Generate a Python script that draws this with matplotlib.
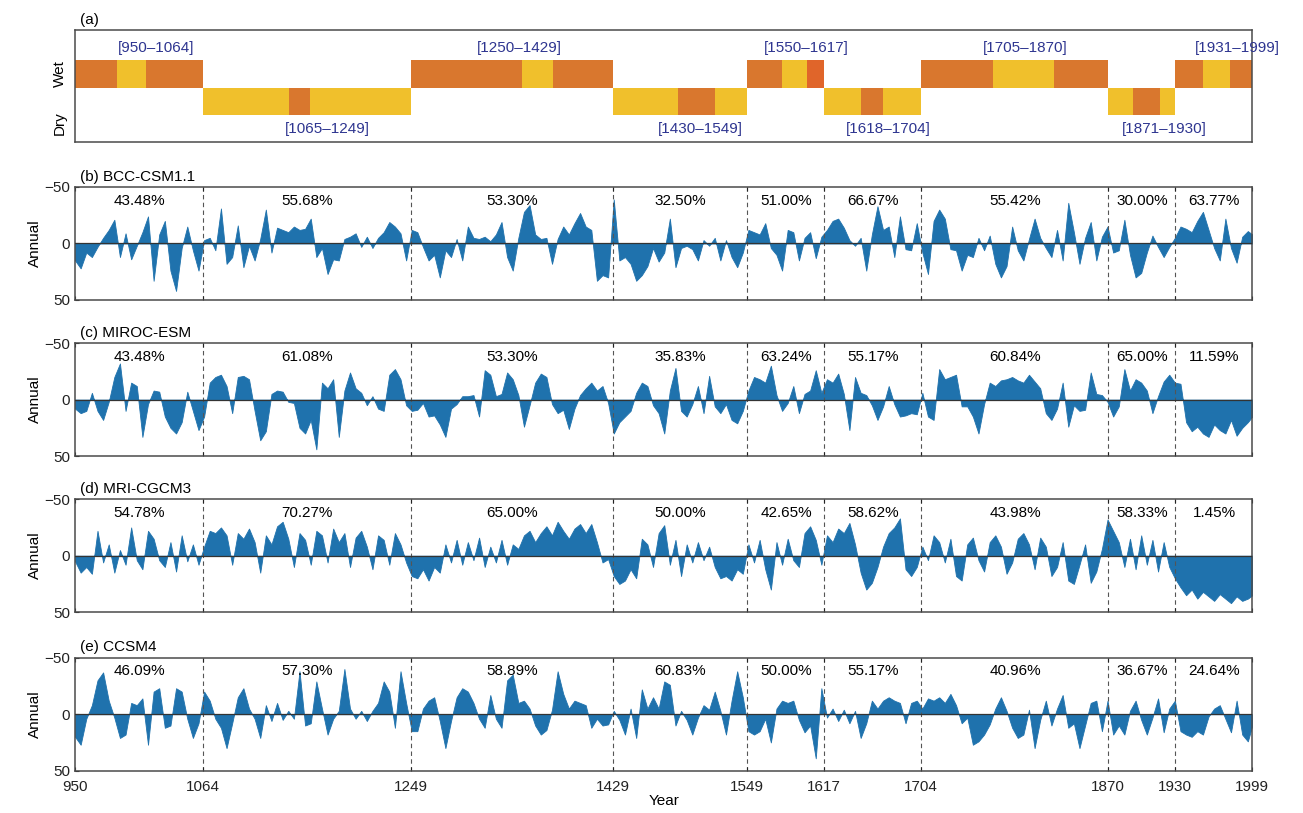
import numpy as np
import matplotlib
matplotlib.use("Agg")
import matplotlib.pyplot as plt

plt.rcParams['font.family'] = ['Liberation Sans', 'DejaVu Sans']

# period boundaries and wet/dry classification
periods = [(950, 1064), (1065, 1249), (1250, 1429), (1430, 1549), (1550, 1617),
           (1618, 1704), (1705, 1870), (1871, 1930), (1931, 1999)]
period_state = ['Wet', 'Dry', 'Wet', 'Dry', 'Wet', 'Dry', 'Wet', 'Dry', 'Wet']
boundaries = [1064, 1249, 1429, 1549, 1617, 1704, 1870, 1930]
xticks = [950, 1064, 1249, 1429, 1549, 1617, 1704, 1870, 1930, 1999]
label_x = [1022, 1175, 1346, 1507, 1602, 1675, 1797, 1921, 1986]

# colour blocks inside each period bar: (start, end, colour key)
blocks = [
    [(950, 987, 'o'), (987, 1013, 'y'), (1013, 1064, 'o')],
    [(1064, 1141, 'y'), (1141, 1159, 'o'), (1159, 1249, 'y')],
    [(1249, 1348, 'o'), (1348, 1376, 'y'), (1376, 1429, 'o')],
    [(1429, 1487, 'y'), (1487, 1520, 'o'), (1520, 1549, 'y')],
    [(1549, 1580, 'o'), (1580, 1602, 'y'), (1602, 1617, 'r')],
    [(1617, 1650, 'y'), (1650, 1670, 'o'), (1670, 1704, 'y')],
    [(1704, 1768, 'o'), (1768, 1822, 'y'), (1822, 1870, 'o')],
    [(1870, 1893, 'y'), (1893, 1917, 'o'), (1917, 1930, 'y')],
    [(1930, 1955, 'o'), (1955, 1979, 'y'), (1979, 1999, 'o')],
]
block_colors = {'o': '#d9772e', 'y': '#f0c02c', 'r': '#e0652a'}

models = ['(b) BCC-CSM1.1', '(c) MIROC-ESM', '(d) MRI-CGCM3', '(e) CCSM4']
percents = [
    ['43.48%', '55.68%', '53.30%', '32.50%', '51.00%', '66.67%', '55.42%', '30.00%', '63.77%'],
    ['43.48%', '61.08%', '53.30%', '35.83%', '63.24%', '55.17%', '60.84%', '65.00%', '11.59%'],
    ['54.78%', '70.27%', '65.00%', '50.00%', '42.65%', '58.62%', '43.98%', '58.33%', '1.45%'],
    ['46.09%', '57.30%', '58.89%', '60.83%', '50.00%', '55.17%', '40.96%', '36.67%', '24.64%'],
]

# sample years: every 5 years from 950, plus 1999
years = np.append(np.arange(950, 1999, 5), 1999)

bcc = [
    15, 22, 8, 12, 3, -5, -12, -21, 12, -9,
    14, 2, -10, -24, 33, -8, -20, 24, 42, 4,
    -15, 6, 24, -3, -5, 6, -31, 18, 12, -16,
    21, 2, 15, -4, -30, 8, -14, -12, -10, -15,
    -12, -13, -22, 12, 4, 27, 14, 15, -4, -6,
    -9, 3, -6, 4, -5, -10, -19, -15, -9, 15,
    -12, -10, 3, 15, 10, 30, 6, 12, -4, 15,
    -15, -5, -4, -6, -2, -8, -19, 12, 24, -5,
    -28, -34, -8, -4, -5, 18, -4, -15, -8, -18,
    -27, -15, -12, 33, 28, 30, -39, 15, 12, 18,
    33, 28, 20, 4, 16, 8, -22, 21, 4, 2,
    5, 15, -3, 2, -5, 15, -3, 12, 21, 8,
    -12, -10, -8, -18, 4, 10, 24, -12, -10, 15,
    -5, -10, 13, -6, -12, -20, -22, -14, -3, 2,
    -5, 24, -8, -33, -12, -15, 12, -24, 5, 6,
    -18, 8, 27, -20, -30, -22, 5, 6, 24, 10,
    12, -5, 6, -7, 18, 30, 20, -15, 6, 15,
    -4, -22, -5, 4, 12, -12, 15, -36, -10, 18,
    -5, -19, 15, -6, -15, 8, 6, -21, 10, 30,
    26, 8, -7, 3, 12, 3, -5, -15, -13, -10,
    -20, -28, -12, 4, 15, -22, 4, 17, -6, -11, -8,
]

miroc = [
    8, 12, 10, -6, 10, 18, 2, -20, -32, 10,
    -15, -12, 33, 4, -8, -7, 15, 25, 30, 20,
    -7, 10, 27, 15, -15, -20, -22, -12, 12, -20,
    -21, -18, 10, 36, 28, -5, -8, -7, 2, 3,
    25, 30, 18, 44, -15, -10, -18, 33, -8, -24,
    -10, -6, 5, -3, 8, 10, -22, -27, -18, 5,
    10, 9, 3, 15, 14, 22, 33, 8, 4, -3,
    -3, -4, 15, -26, -22, -3, -5, -24, -18, -4,
    24, 5, -15, -23, -20, 4, 12, 9, 26, 8,
    -4, -10, -15, -8, -12, 3, 30, 20, 15, 10,
    -6, -15, -12, 5, 12, 30, -8, -28, 10, 15,
    4, -12, 12, -21, 6, 12, 4, 18, 21, 10,
    -8, -20, -18, -15, -30, -4, 10, 3, -12, 12,
    -5, -8, -26, -6, -18, -15, -23, -5, 27, -20,
    -6, -4, 5, 18, 6, -12, 4, 15, 14, 12,
    13, -6, 15, 18, -27, -18, -20, -22, 6, 6,
    15, 30, 4, -15, -12, -17, -18, -20, -17, -15,
    -22, -16, -10, 12, 18, 8, -15, 24, 5, 10,
    9, -24, -5, -4, 2, 15, 6, -27, -8, -18,
    -15, -8, 12, -3, -16, -22, -15, -14, 20, 28,
    24, 30, 33, 22, 27, 30, 18, 32, 25, 20, 15,
]

mri = [
    5, 15, 10, 16, -22, 6, -10, 15, -5, 8,
    -25, 4, 12, -22, -15, 4, 10, -12, 14, -18,
    5, -10, 8, -8, -22, -20, -25, -18, 8, -20,
    -15, -24, -12, 15, -18, -10, -26, -30, -15, 10,
    -20, -14, 8, -22, -18, 6, -24, -12, -20, 10,
    -16, -22, -8, 12, -18, -14, 8, -20, -10, 6,
    18, 20, 12, 22, 10, 15, -10, 6, -14, 8,
    -12, 4, -16, 10, -8, 6, -14, 8, -10, -6,
    -18, -22, -12, -20, -26, -18, -30, -22, -15, -24,
    -28, -20, -28, -12, 6, 3, 18, 25, 22, 12,
    20, -15, -10, 10, -20, -27, 8, -14, 18, -10,
    6, -12, 4, -8, 10, 20, 18, 22, 12, 16,
    -10, 6, -14, 12, 30, -12, 8, -15, 4, 10,
    -20, -26, -14, 8, -18, -12, -24, -20, -29, -10,
    15, 30, 24, 10, -8, -20, -25, -33, 12, 18,
    10, -8, 4, -18, -12, 6, -15, 18, 22, -10,
    -16, 4, 14, -12, -18, -8, 16, 6, -15, -20,
    -10, 12, -16, -8, 18, 10, -12, 22, 25, 8,
    -10, 24, 14, -6, -32, -22, -12, 10, -15, 12,
    -18, 8, -14, 14, -12, 10, 20, 28, 35, 30,
    38, 32, 36, 40, 34, 38, 42, 36, 40, 38, 35,
]

ccsm = [
    20, 27, 4, -8, -30, -37, -12, 3, 21, 18,
    -10, -8, -14, 27, -20, -23, 12, 10, -23, -20,
    4, 21, 8, -20, -12, 4, 12, 30, 8, -15,
    -23, -5, 4, 21, -8, 6, -10, 5, -3, 4,
    -38, 10, 8, -29, -5, 18, 4, -3, -40, -5,
    4, -3, 6, -3, -10, -29, -20, 12, -38, -10,
    15, 15, -5, -12, -15, 6, 30, 6, -15, -23,
    -20, -10, 4, 12, -17, 4, 12, -30, -35, -10,
    -12, -5, 10, 18, 14, -4, -38, -18, -5, -12,
    -10, -8, 12, 4, 10, 9, -3, 5, 18, -5,
    21, -22, -5, -15, -5, -29, -26, 10, -3, 5,
    18, 3, -8, -4, -20, -3, 18, -12, -38, -15,
    15, 18, 15, 4, 25, -5, -12, -10, -12, 5,
    16, 10, 39, -23, 3, -5, 6, -4, 8, -3,
    21, 8, -12, -5, -12, -15, -12, -10, 8, -10,
    -12, -5, -14, -12, -15, -10, -18, -8, 8, 3,
    27, 24, 18, 9, -5, -15, -3, 12, 21, 18,
    -4, 30, 5, -12, 10, -5, -17, 12, 8, 30,
    10, -10, -12, 15, -12, 18, 10, 18, -3, -12,
    5, 18, 3, -14, 16, -5, -12, 15, 18, 20,
    15, 18, 2, -5, -8, 4, 16, -12, 18, 24, 10,
]

series = [bcc, miroc, mri, ccsm]

fig = plt.figure(figsize=(13.03, 8.13), dpi=100)
left, width = 0.0576, 0.9035
ax_a = fig.add_axes([left, 0.825, width, 0.138])
panel_bottoms = [0.631, 0.439, 0.247, 0.052]
axes = [fig.add_axes([left, b, width, 0.139]) for b in panel_bottoms]

edge = '#4a4a4a'
fill_c = '#1f72ad'

# (a) wet / dry bars
for (p0, p1), state, blk, lx in zip(periods, period_state, blocks, label_x):
    y0 = 2.0 if state == 'Wet' else 1.0
    for b0, b1, c in blk:
        ax_a.fill_between([b0, b1], y0, y0 + 1.0, color=block_colors[c], lw=0)
    ly = 3.45 if state == 'Wet' else 0.5
    ax_a.text(lx, ly, '[%d\u2013%d]' % (p0, p1), ha='center', va='center',
              fontsize=11, color='#2e3590')
ax_a.set_xlim(950, 1999)
ax_a.set_ylim(0, 4.1)
ax_a.set_xticks([])
ax_a.set_yticks([0.7, 2.5])
ax_a.set_yticklabels(['Dry', 'Wet'], rotation=90, va='center', fontsize=11)
ax_a.tick_params(axis='y', length=0, pad=6)
ax_a.text(0.004, 1.03, '(a)', transform=ax_a.transAxes, fontsize=11, va='bottom')
for s in ax_a.spines.values():
    s.set_color(edge)
    s.set_linewidth(1.1)

# (b)-(e) annual series
for i, (ax, vals, name, pct) in enumerate(zip(axes, series, models, percents)):
    vals = np.array(vals, dtype=float)
    ax.fill_between(years, vals, 0, color=fill_c, lw=0.6, edgecolor=fill_c)
    ax.axhline(0, color='#333333', lw=0.9, zorder=3)
    for b in boundaries:
        ax.axvline(b, color='#555555', lw=0.8, ls=(0, (4, 3)), zorder=1)
    for (p0, p1), t in zip(periods, pct):
        ax.text((p0 + p1) / 2.0, -38, t, ha='center', va='center', fontsize=11)
    ax.set_xlim(950, 1999)
    ax.set_ylim(50, -50)
    ax.set_yticks([-50, 0, 50])
    ax.set_xticks(xticks)
    ax.tick_params(direction='in', length=3, labelsize=11, top=True, colors='#222222')
    ax.tick_params(axis='x', pad=7)
    if i < 3:
        ax.set_xticklabels([])
    ax.set_ylabel('Annual', fontsize=11, labelpad=2)
    ax.text(0.004, 1.03, name, transform=ax.transAxes, fontsize=11, va='bottom')
    for s in ax.spines.values():
        s.set_color(edge)
        s.set_linewidth(1.1)

axes[-1].set_xlabel('Year', fontsize=11, labelpad=0)

fig.savefig('out.png', dpi=100)
